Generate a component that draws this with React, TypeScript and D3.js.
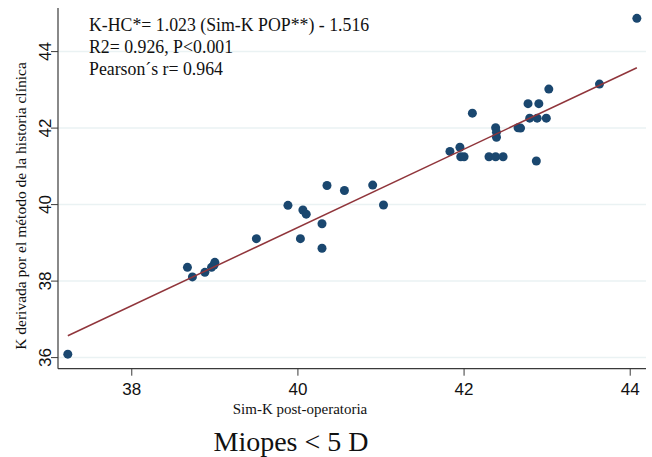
import React from 'react';
import * as d3 from 'd3';

// Sim-K post-operatoria (x) y K derivada por historia clínica (y)
const simK = [
  37.23, 38.67, 38.73, 38.88, 38.96, 38.99, 39.0,
  39.5, 39.88, 40.06, 40.1, 40.03, 40.29, 40.29, 40.35, 40.56, 40.9, 41.03,
  42.1, 41.83, 41.95, 41.96, 42.0, 42.3, 42.38, 42.47,
  42.38, 42.39, 42.39, 42.65, 42.68, 42.77, 42.9, 42.79, 42.88, 42.99,
  42.87, 43.02, 43.63, 44.08,
];
const kHC = [
  36.09, 38.36, 38.11, 38.23, 38.36, 38.42, 38.49,
  39.11, 39.98, 39.86, 39.75, 39.11, 39.5, 38.86, 40.5, 40.37, 40.51, 39.99,
  42.39, 41.39, 41.5, 41.25, 41.25, 41.25, 41.25, 41.25,
  42.01, 41.89, 41.76, 42.01, 42.0, 42.64, 42.64, 42.26, 42.26, 42.26,
  41.14, 43.02, 43.15, 44.87,
];
const xTicks = [38, 40, 42, 44];
const yTicks = [36, 38, 40, 42, 44];
const slope = 1.023;
const intercept = -1.516;
const statLines = [
  'K-HC*= 1.023 (Sim-K POP**) - 1.516',
  'R2= 0.926, P<0.001',
  'Pearson\u00b4s r= 0.964',
];

const W = 652;
const H = 457;
const left = 58;
const right = 646;
const top = 8;
const bottom = 368.7;

const dotColor = '#1a476f';
const lineColor = '#90353b';
const gridColor = '#eaf2f3';
const axisColor = '#3a3a3a';
const serif = '"Liberation Serif", "Times New Roman", serif';
const sans = '"Liberation Sans", Arial, sans-serif';

export default function App() {
  const x = d3.scaleLinear().domain([37.112, 44.19]).range([left, right]);
  const y = d3.scaleLinear().domain([35.71, 45.14]).range([bottom, top]);

  const xMin = d3.min(simK) as number;
  const xMax = d3.max(simK) as number;
  const fit = d3.line<number>()
    .x(d => x(d))
    .y(d => y(slope * d + intercept));

  return (
    <svg width={W} height={H} style={{ position: 'absolute', left: 0, top: 0, background: '#fff' }}>
      {/* grid */}
      {yTicks.map(t => (
        <line key={'g' + t} x1={left} x2={right} y1={y(t)} y2={y(t)} stroke={gridColor} strokeWidth={1.5} />
      ))}

      {/* ejes */}
      <line x1={left} x2={left} y1={top} y2={bottom} stroke={axisColor} strokeWidth={1.2} />
      <line x1={left} x2={right} y1={bottom} y2={bottom} stroke={axisColor} strokeWidth={1.2} />
      {yTicks.map(t => (
        <g key={'y' + t}>
          <line x1={left - 7} x2={left} y1={y(t)} y2={y(t)} stroke={axisColor} strokeWidth={1} />
          <text
            transform={`translate(51,${y(t)}) rotate(-90)`}
            textAnchor="middle"
            fontFamily={sans}
            fontSize={17}
            fill="#111"
          >{t}</text>
        </g>
      ))}
      {xTicks.map(t => (
        <g key={'x' + t}>
          <line x1={x(t)} x2={x(t)} y1={bottom} y2={bottom + 7} stroke={axisColor} strokeWidth={1} />
          <text x={x(t)} y={395} textAnchor="middle" fontFamily={sans} fontSize={17} fill="#111">{t}</text>
        </g>
      ))}

      {/* puntos */}
      {simK.map((v, i) => (
        <circle key={'p' + i} cx={x(v)} cy={y(kHC[i])} r={4.5} fill={dotColor} />
      ))}

      {/* recta de regresión */}
      <path d={fit([xMin, xMax]) || ''} fill="none" stroke={lineColor} strokeWidth={1.5} />

      {/* anotaciones */}
      {statLines.map((s, i) => (
        <text key={'s' + i} x={89} y={30.5 + i * 22.3} fontFamily={serif} fontSize={17.8} fill="#111">{s}</text>
      ))}

      {/* títulos */}
      <text
        transform={`translate(26,206) rotate(-90)`}
        textAnchor="middle"
        fontFamily={serif}
        fontSize={15.5}
        fill="#111"
      >K derivada por el método de la historia clínica</text>
      <text x={300} y={414} textAnchor="middle" fontFamily={serif} fontSize={15} fill="#111">Sim-K post-operatoria</text>
      <text x={291} y={451} textAnchor="middle" fontFamily={serif} fontSize={28} fill="#111">Miopes &lt; 5 D</text>
    </svg>
  );
}
